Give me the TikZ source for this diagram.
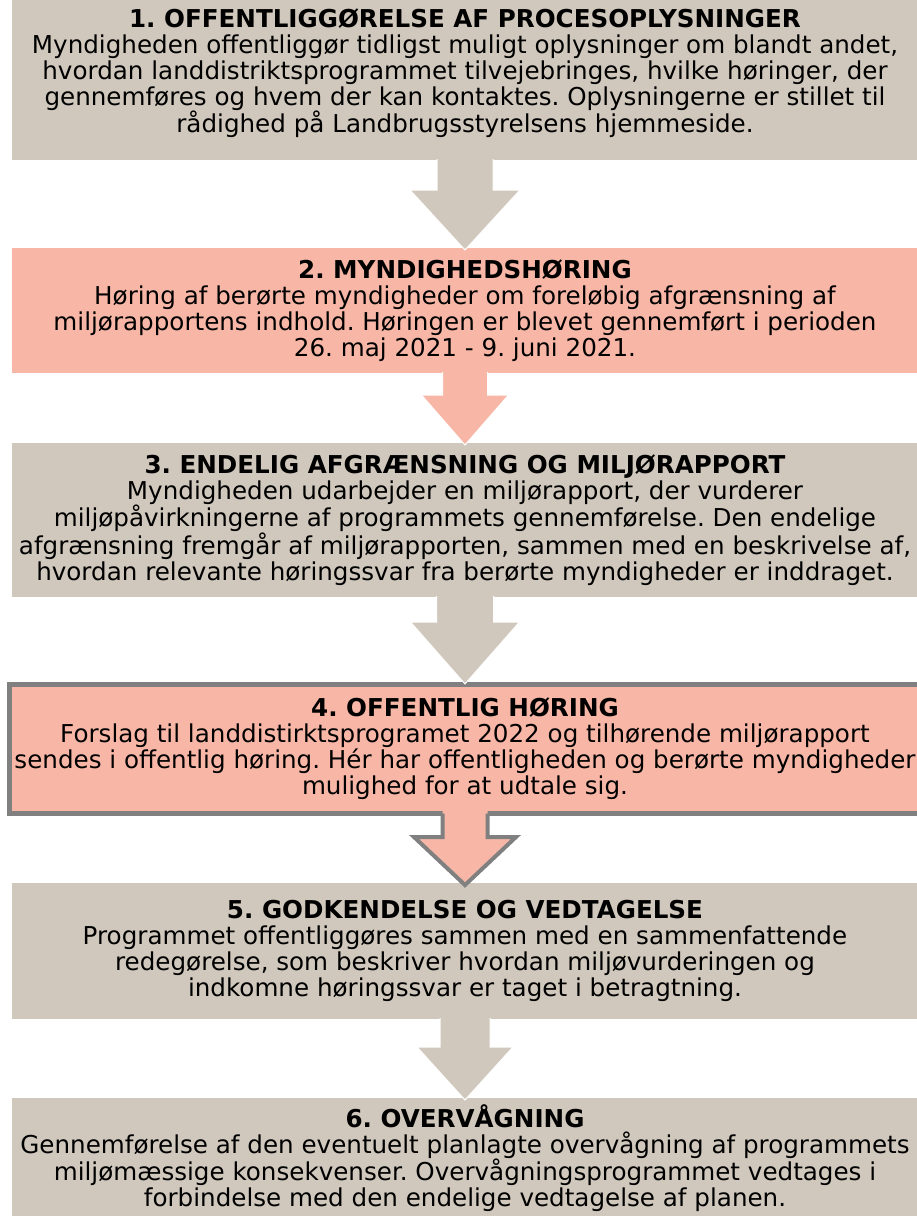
\documentclass[tikz,border=0pt]{standalone}
\usepackage{fontspec}
\setmainfont{DejaVu Sans}
\usetikzlibrary{calc}
\definecolor{tanbox}{HTML}{D0C8BC}
\definecolor{salmonbox}{HTML}{F8B7A6}
\definecolor{bordergray}{HTML}{808080}
% #1 from node, #2 to node, #3 shaft half width, #4 head half width,
% #5 head length, #6 start offset into the upper box, #7 style
\newcommand\blockarrow[7]{%
  \path[#7] let \p1=(#1.south), \p2=(#2.north) in
    (\x1-#3pt,\y1+#6pt) -- (\x1-#3pt,\y2+#5pt) -- (\x1-#4pt,\y2+#5pt)
    -- (\x1,\y2-2pt) -- (\x1+#4pt,\y2+#5pt) -- (\x1+#3pt,\y2+#5pt)
    -- (\x1+#3pt,\y1+#6pt);}
\begin{document}
\frenchspacing
\begin{tikzpicture}[x=1pt,y=-1pt,
  stagebox/.style={rectangle, inner sep=0pt, outer sep=0pt, align=center,
    font=\fontsize{24.6pt}{26pt}\selectfont, minimum width=906pt},
  tanfill/.style={stagebox, fill=tanbox},
  salmonfill/.style={stagebox, fill=salmonbox},
  tanarrow/.style={fill=tanbox, draw=white, line width=1pt},
  salmonarrow/.style={fill=salmonbox, draw=white, line width=1pt}]
\useasboundingbox (0,0) rectangle (917,1216);

\node[tanfill, minimum height=174pt] (b1) at (465,73)
  {\textbf{1. OFFENTLIGGØRELSE AF PROCESOPLYSNINGER}\\
   Myndigheden offentliggør tidligst muligt oplysninger om blandt andet,\\
   hvordan landdistriktsprogrammet tilvejebringes, hvilke høringer, der\\
   gennemføres og hvem der kan kontaktes. Oplysningerne er stillet til\\
   rådighed på Landbrugsstyrelsens hjemmeside.};

\node[salmonfill, minimum height=125pt] (b2) at (465,310.5)
  {\textbf{2. MYNDIGHEDSHØRING}\\
   Høring af berørte myndigheder om foreløbig afgrænsning af\\
   miljørapportens indhold. Høringen er blevet gennemført i perioden\\
   26. maj 2021 - 9. juni 2021.};

\node[tanfill, minimum height=154pt] (b3) at (465,520)
  {\textbf{3. ENDELIG AFGRÆNSNING OG MILJØRAPPORT}\\
   Myndigheden udarbejder en miljørapport, der vurderer\\
   miljøpåvirkningerne af programmets gennemførelse. Den endelige\\
   afgrænsning fremgår af miljørapporten, sammen med en beskrivelse af,\\
   hvordan relevante høringssvar fra berørte myndigheder er inddraget.};

\node[salmonfill, draw=bordergray, line width=5pt, minimum width=911pt,
      minimum height=129pt, outer sep=2.5pt] (b4) at (465,749)
  {\textbf{4. OFFENTLIG HØRING}\\
   Forslag til landdistirktsprogramet 2022 og tilhørende miljørapport\\
   sendes i offentlig høring. Hér har offentligheden og berørte myndigheder\\
   mulighed for at udtale sig.};

\node[tanfill, minimum height=136pt] (b5) at (465,951)
  {\textbf{5. GODKENDELSE OG VEDTAGELSE}\\
   Programmet offentliggøres sammen med en sammenfattende\\
   redegørelse, som beskriver hvordan miljøvurderingen og\\
   indkomne høringssvar er taget i betragtning.};

\node[tanfill, minimum height=120pt] (b6) at (465,1158)
  {\textbf{6. OVERVÅGNING}\\
   Gennemførelse af den eventuelt planlagte overvågning af programmets\\
   miljømæssige konsekvenser. Overvågningsprogrammet vedtages i\\
   forbindelse med den endelige vedtagelse af planen.};

\blockarrow{b1}{b2}{28}{55}{58}{1}{tanarrow}
\blockarrow{b2}{b3}{22.5}{43.5}{48}{1}{salmonarrow}
\blockarrow{b3}{b4}{28.5}{54.5}{60}{1}{tanarrow}
\blockarrow{b4}{b5}{22.5}{51}{46}{5}{fill=salmonbox}
\blockarrow{b4}{b5}{22.5}{51}{46}{2.5}{draw=bordergray, line width=4pt}
\blockarrow{b5}{b6}{25}{48}{51}{1}{tanarrow}
\end{tikzpicture}
\end{document}
